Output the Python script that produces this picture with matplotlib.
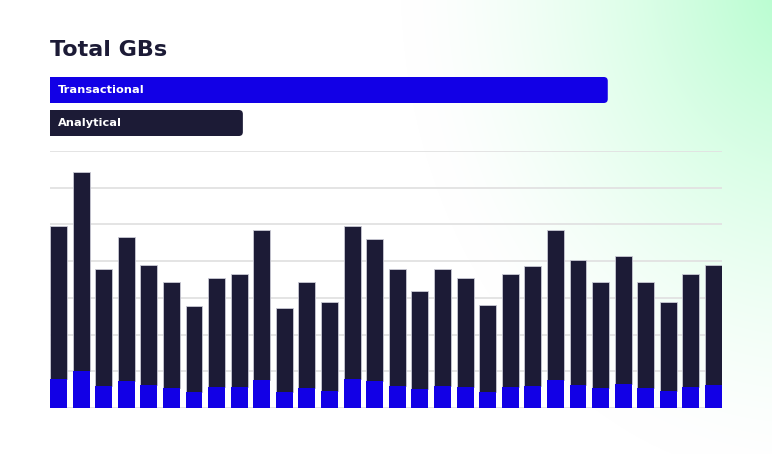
import numpy as np
import matplotlib.pyplot as plt
from matplotlib.patches import FancyBboxPatch

# values (grid step = 1 unit)
transactional = [0.78, 1.01, 0.60, 0.74, 0.62, 0.54, 0.44, 0.56, 0.57, 0.77,
                 0.44, 0.54, 0.45, 0.78, 0.73, 0.60, 0.51, 0.60, 0.56, 0.44,
                 0.57, 0.61, 0.76, 0.63, 0.54, 0.65, 0.54, 0.45, 0.57, 0.62]
totals = [4.96, 6.42, 3.79, 4.66, 3.90, 3.44, 2.79, 3.55, 3.66, 4.85,
          2.72, 3.44, 2.88, 4.96, 4.61, 3.79, 3.18, 3.79, 3.55, 2.81,
          3.66, 3.87, 4.85, 4.03, 3.44, 4.14, 3.44, 2.88, 3.66, 3.90]
analytical = [t - b for t, b in zip(totals, transactional)]

legend_labels = ['Transactional', 'Analytical']
legend_sizes = [0.83, 0.287]

blue = '#1200e6'
navy = '#1c1b36'

fig = plt.figure(figsize=(7.72, 4.54), dpi=100)

# background gradient, green in the top right corner
bg = fig.add_axes([0, 0, 1, 1], zorder=0)
bg.axis('off')
h, w = 454, 772
yy, xx = np.mgrid[0:h, 0:w]
d = np.sqrt((xx - 800) ** 2 + ((yy + 20) / 1.25) ** 2)
t = np.clip(1 - d / 400, 0, 1) ** 1.5
green = np.array([178, 253, 204]) / 255
img = np.ones((h, w, 3)) * (1 - t[..., None]) + green * t[..., None]
bg.imshow(img, aspect='auto', extent=[0, 1, 0, 1])

fig.text(50 / w, 1 - 50 / h, 'Total GBs', fontsize=16, fontweight='bold',
         color=navy, va='center', ha='left')

# legend bars (axes in pixel units so the corner rounding stays round)
lax = fig.add_axes([50 / w, 1 - 136 / h, 672 / w, 59 / h], zorder=2)
lax.set_xlim(0, 672)
lax.set_ylim(59, 0)
lax.axis('off')
for i, (lab, size) in enumerate(zip(legend_labels, legend_sizes)):
    col = blue if i == 0 else navy
    top = i * 33
    lax.add_patch(FancyBboxPatch((0, top), size * 672, 26,
                                 boxstyle='round,pad=0,rounding_size=4',
                                 fc=col, ec='none'))
    lax.add_patch(plt.Rectangle((0, top), 8, 26, fc=col, ec='none'))
    lax.text(8, top + 13, lab, color='white', fontsize=8.2, fontweight='bold',
             va='center', ha='left')

# main chart
ax = fig.add_axes([50 / w, 1 - 408 / h, 672 / w, 257 / h], zorder=1)
ax.patch.set_alpha(0)
x = np.arange(len(totals))
bw = 0.75
ax.bar(x, analytical, width=bw, bottom=transactional, color=navy, zorder=3,
       linewidth=0.6, edgecolor='#c9c9d4', joinstyle='round')
ax.bar(x, transactional, width=bw, color=blue, zorder=4, linewidth=0)
ax.set_xlim(-bw / 2, len(totals) - 1 + bw / 2)
ax.set_ylim(0, 7)
ax.set_yticks(np.arange(0, 8))
ax.yaxis.grid(True, color='#e2e2e2', linewidth=1.3)
ax.set_axisbelow(True)
ax.tick_params(left=False, bottom=False, labelleft=False, labelbottom=False)
for s in ax.spines.values():
    s.set_visible(False)

fig.savefig('out.png', dpi=100)
